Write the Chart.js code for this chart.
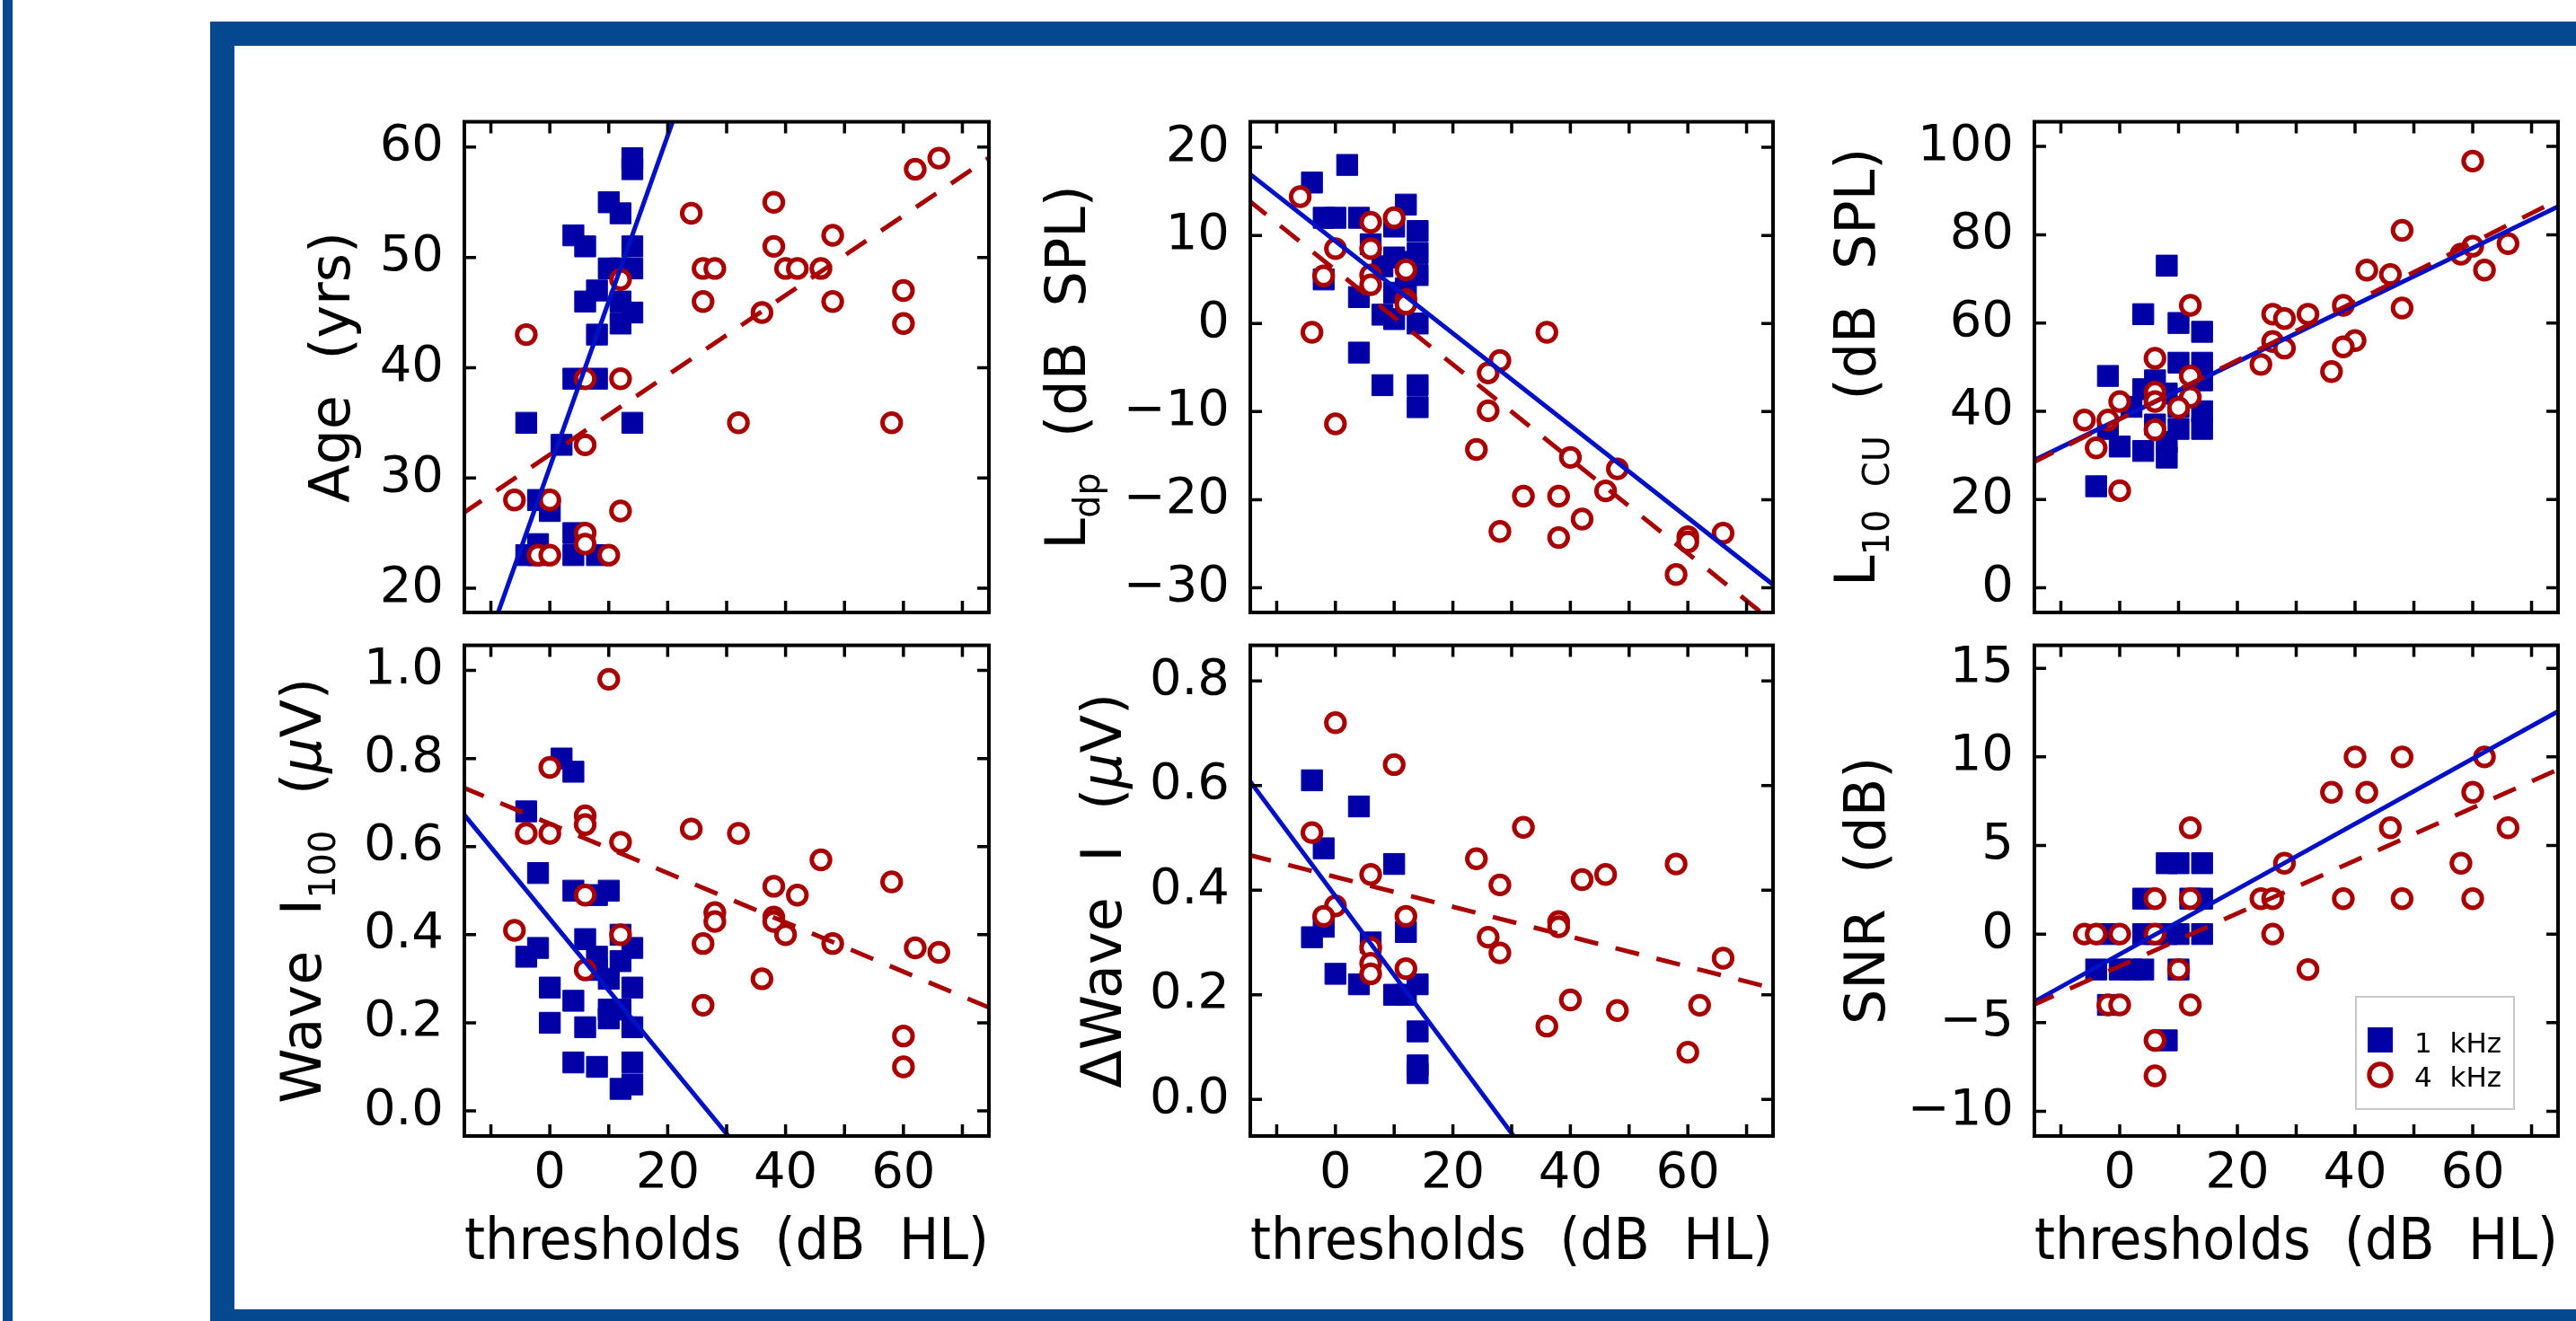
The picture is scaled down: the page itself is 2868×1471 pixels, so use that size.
<!DOCTYPE html>
<html>
<head>
<meta charset="utf-8">
<script src="https://cdn.jsdelivr.net/npm/chart.js@4.4.1/dist/chart.umd.min.js"></script>
<style>
    body { margin: 0; width: 2868px; height: 1471px; overflow: hidden; background: #fff; position: relative; }
    .bar { position: absolute; left: 3px; top: 0; width: 11px; height: 1471px; background: #03498f; }
    .frame { position: absolute; left: 234px; top: 24px; width: 2700px; height: 1461px; border: 27px solid #03498f; box-sizing: border-box; }
    canvas { position: absolute; }
</style>
</head>
<body>
<div class="bar"></div>
<div class="frame"></div>

<script>
// thresholds (dB HL) on x, shared by all six panels
const xTicks = [-10, 0, 10, 20, 30, 40, 50, 60, 70]
const xTickLabels = ['', '0', '', '20', '', '40', '', '60', '']

// Age (yrs)
const ageTicks = [20, 30, 40, 50, 60]
const ageLabels = ['20', '30', '40', '50', '60']
const age1k = [[14,59],[14,58],[10,55],[12,54],[4,52],[6,51],[14,51],[10,49],[12,49],[14,49],[8,47],[6,46],[12,46],[14,45],[12,44],[8,43],[4,39],[8,39],[-4,35],[14,35],[2,33],[-2,28],[0,27],[4,25],[-2,24],[-4,23],[-2,23],[4,23],[8,23]]
const age4k = [[66,59],[62,58],[24,54],[38,55],[48,52],[38,51],[26,49],[28,49],[40,49],[42,49],[46,49],[12,48],[26,46],[48,46],[60,47],[60,44],[36,45],[-4,43],[6,39],[12,39],[32,35],[58,35],[6,33],[-6,28],[0,28],[12,27],[6,25],[6,24],[-2,23],[0,23],[10,23]]
const ageFit1k = [[-9.3,17.0],[21.3,63.0]]
const ageFit4k = [[-15,26.7],[75,59.2]]

// Ldp (dB SPL)
const ldpTicks = [-30, -20, -10, 0, 10, 20]
const ldpLabels = ['\u221230', '\u221220', '\u221210', '0', '10', '20']
const ldp1k = [[-4,16],[2,18],[-2,12],[0,12],[4,12],[12,13.5],[10,11],[14,10.5],[6,9],[14,8],[10,7.5],[12,7],[8,6.5],[-2,5],[14,5.5],[4,3],[12,4],[10,3.5],[8,1],[10,0.5],[14,0],[4,-3.3],[8,-7],[14,-7],[14,-9.5]]
const ldp4k = [[-6,14.4],[6,11.5],[10,12],[0,8.5],[6,8.5],[-2,5.4],[6,5.5],[6,4.4],[12,6.1],[12,2.7],[12,2.2],[-4,-1],[36,-1],[28,-4.2],[26,-5.6],[26,-9.9],[0,-11.4],[24,-14.3],[40,-15.2],[48,-16.5],[46,-19],[32,-19.6],[38,-19.6],[42,-22.2],[28,-23.6],[38,-24.3],[60,-24.2],[60,-24.8],[66,-23.8],[58,-28.5]]
const ldpFit1k = [[-15,17.2],[75,-29.9]]
const ldpFit4k = [[-15,14.1],[73.8,-33.5]]

// L10 CU (dB SPL)
const l10Ticks = [0, 20, 40, 60, 80, 100]
const l10Labels = ['0', '20', '40', '60', '80', '100']
const l101k = [[8,73],[4,62],[10,60],[14,58],[-2,48],[10,51],[14,51],[14,47],[6,47],[4,45],[8,44],[2,41],[10,41],[14,40],[6,37],[10,36],[14,36],[-2,36],[0,32],[4,31],[8,33],[8,29.5],[-4,23]]
const l104k = [[60,96.7],[48,81],[66,78],[58,75.6],[60,77.4],[62,72],[42,72],[46,71],[48,63.4],[38,64],[12,64],[26,62],[28,61],[32,62],[26,55.8],[28,54.3],[40,56],[38,54.6],[24,50.6],[36,49],[6,52],[12,48],[6,44.3],[6,42.2],[12,43.2],[0,42.2],[10,40.8],[-6,38],[-2,38],[6,35.8],[-4,31.7],[0,22]]
const l10Fit1k = [[-15,28.6],[75,86.7]]
const l10Fit4k = [[-15,28.2],[75,88.2]]

// Wave I100 (uV)
const waveTicks = [0, 0.2, 0.4, 0.6, 0.8, 1.0]
const waveLabels = ['0.0', '0.2', '0.4', '0.6', '0.8', '1.0']
const wave1k = [[2,0.80],[4,0.77],[-4,0.68],[-2,0.54],[4,0.50],[8,0.49],[10,0.50],[6,0.39],[12,0.40],[-2,0.37],[-4,0.35],[14,0.37],[8,0.35],[8,0.32],[10,0.30],[12,0.34],[14,0.28],[0,0.28],[4,0.25],[10,0.23],[12,0.23],[10,0.21],[0,0.20],[6,0.19],[14,0.19],[4,0.11],[8,0.10],[14,0.11],[14,0.06],[12,0.05]]
const wave4k = [[10,0.98],[0,0.78],[6,0.67],[6,0.65],[-4,0.63],[0,0.63],[12,0.61],[24,0.64],[32,0.63],[46,0.57],[58,0.52],[38,0.51],[42,0.49],[6,0.49],[28,0.45],[28,0.43],[38,0.44],[38,0.43],[-6,0.41],[12,0.40],[40,0.40],[26,0.38],[48,0.38],[62,0.37],[66,0.36],[6,0.32],[36,0.30],[26,0.24],[60,0.17],[60,0.10]]
const waveFit1k = [[-15,0.68],[31.1,-0.07]]
const waveFit4k = [[-15,0.736],[75,0.232]]

// delta Wave I (uV)
const dwaveTicks = [0, 0.2, 0.4, 0.6, 0.8]
const dwaveLabels = ['0.0', '0.2', '0.4', '0.6', '0.8']
const dwave1k = [[-4,0.61],[4,0.56],[-2,0.48],[10,0.45],[-2,0.33],[-4,0.31],[12,0.32],[6,0.30],[0,0.24],[4,0.22],[10,0.20],[12,0.20],[14,0.22],[14,0.13],[14,0.065],[14,0.05]]
const dwave4k = [[0,0.72],[10,0.64],[32,0.52],[-4,0.51],[24,0.46],[58,0.45],[46,0.43],[42,0.42],[28,0.41],[6,0.43],[0,0.37],[-2,0.35],[12,0.35],[38,0.34],[38,0.33],[26,0.31],[28,0.28],[6,0.29],[6,0.26],[6,0.24],[12,0.25],[66,0.27],[40,0.19],[48,0.17],[62,0.18],[36,0.14],[60,0.09]]
const dwaveFit1k = [[-15,0.615],[31.0,-0.08]]
const dwaveFit4k = [[-15,0.468],[75,0.211]]

// SNR (dB)
const snrTicks = [-10, -5, 0, 5, 10, 15]
const snrLabels = ['\u221210', '\u22125', '0', '5', '10', '15']
const snr1k = [[8,4],[10,4],[14,4],[4,2],[12,2],[14,2],[-2,0],[4,0],[6,0],[8,0],[10,0],[14,0],[-4,-2],[0,-2],[2,-2],[4,-2],[10,-2],[-2,-4],[8,-6]]
const snr4k = [[40,10],[48,10],[62,10],[36,8],[42,8],[60,8],[12,6],[46,6],[66,6],[28,4],[58,4],[6,2],[12,2],[24,2],[26,2],[38,2],[48,2],[60,2],[-6,0],[-4,0],[0,0],[6,0],[26,0],[10,-2],[32,-2],[-2,-4],[0,-4],[12,-4],[6,-6],[6,-8]]
const snrFit1k = [[-15,-3.9],[75,12.66]]
const snrFit4k = [[-15,-4.05],[75,9.37]]

const seriesNames = ['1 kHz', '4 kHz']

const BLUE = '#0000a6'
const BLUE_LINE = '#0010c4'
const RED = '#a80000'
const FONT = "'DejaVu Sans', sans-serif"

// panel boxes on the page (px)
const cols = [[517, 1101], [1392, 1974], [2265, 2848]]
const rows = [[99, 682], [682, 1265]]
const AXIS_W = 300, AXIS_H = 190, PAD_T = 20, PAD_R = 20

const panels = [
    { col: 0, row: 0, min: 17.8, max: 62.3, ticks: ageTicks, labels: ageLabels, s1: age1k, s4: age4k, f1: ageFit1k, f4: ageFit4k,
      title: [['Age  (yrs)', '']], offset: 128 },
    { col: 1, row: 0, min: -32.8, max: 22.9, ticks: ldpTicks, labels: ldpLabels, s1: ldp1k, s4: ldp4k, f1: ldpFit1k, f4: ldpFit4k,
      title: [['L', ''], ['dp', 'sub'], ['  (dB  SPL)', '']], offset: 184 },
    { col: 2, row: 0, min: -5.6, max: 105.6, ticks: l10Ticks, labels: l10Labels, s1: l101k, s4: l104k, f1: l10Fit1k, f4: l10Fit4k,
      title: [['L', ''], ['10  CU', 'sub'], ['  (dB  SPL)', '']], offset: 178 },
    { col: 0, row: 1, min: -0.057, max: 1.057, ticks: waveTicks, labels: waveLabels, s1: wave1k, s4: wave4k, f1: waveFit1k, f4: waveFit4k,
      title: [['Wave  I', ''], ['100', 'sub'], ['  (', ''], ['\u03bc', 'it'], ['V)', '']], offset: 160 },
    { col: 1, row: 1, min: -0.07, max: 0.868, ticks: dwaveTicks, labels: dwaveLabels, s1: dwave1k, s4: dwave4k, f1: dwaveFit1k, f4: dwaveFit4k,
      title: [['\u0394Wave  I  (', ''], ['\u03bc', 'it'], ['V)', '']], offset: 144 },
    { col: 2, row: 1, min: -11.4, max: 16.3, ticks: snrTicks, labels: snrLabels, s1: snr1k, s4: snr4k, f1: snrFit1k, f4: snrFit4k,
      title: [['SNR  (dB)', '']], offset: 167, legend: true }
]

const toXY = arr => arr.map(p => ({ x: p[0], y: p[1] }))

// inward ticks on all four sides plus the box
const framePlugin = {
    id: 'frame',
    afterDatasetsDraw(chart) {
        const { ctx, chartArea: a, scales: { x, y } } = chart
        ctx.save()
        ctx.strokeStyle = '#000'
        ctx.lineWidth = 3.5
        ctx.beginPath()
        x.ticks.forEach(t => {
            const px = x.getPixelForValue(t.value)
            ctx.moveTo(px, a.bottom); ctx.lineTo(px, a.bottom - 13)
            ctx.moveTo(px, a.top); ctx.lineTo(px, a.top + 13)
        })
        y.ticks.forEach(t => {
            const py = y.getPixelForValue(t.value)
            ctx.moveTo(a.left, py); ctx.lineTo(a.left + 13, py)
            ctx.moveTo(a.right, py); ctx.lineTo(a.right - 13, py)
        })
        ctx.stroke()
        ctx.lineWidth = 4
        ctx.strokeRect(a.left, a.top, a.right - a.left, a.bottom - a.top)
        ctx.restore()
    }
}

// rotated y title with subscripts
function titlePlugin(panel) {
    return {
        id: 'yTitle',
        afterDraw(chart) {
            const { ctx, chartArea: a } = chart
            const fontFor = k => k === 'sub' ? '40px ' + FONT : (k === 'it' ? 'italic 62px ' + FONT : '62px ' + FONT)
            let total = 0
            panel.title.forEach(p => { ctx.font = fontFor(p[1]); total += ctx.measureText(p[0]).width })
            ctx.save()
            ctx.translate(a.left - panel.offset, (a.top + a.bottom) / 2)
            ctx.rotate(-Math.PI / 2)
            ctx.fillStyle = '#000'
            ctx.textBaseline = 'alphabetic'
            ctx.textAlign = 'left'
            let x = -total / 2
            panel.title.forEach(p => {
                ctx.font = fontFor(p[1])
                ctx.fillText(p[0], x, p[1] === 'sub' ? 16 : 0)
                x += ctx.measureText(p[0]).width
            })
            ctx.restore()
        }
    }
}

const legendPlugin = {
    id: 'boxLegend',
    afterDraw(chart) {
        const { ctx, chartArea: a } = chart
        const w = 176, h = 125
        const left = a.right - 49 - w, top = a.bottom - 30 - h
        ctx.save()
        ctx.fillStyle = '#fff'
        ctx.fillRect(left, top, w, h)
        ctx.strokeStyle = '#c8c8c8'
        ctx.lineWidth = 2
        ctx.strokeRect(left, top, w, h)
        ctx.fillStyle = BLUE
        ctx.fillRect(left + 13, top + 34, 28, 28)
        ctx.strokeStyle = RED
        ctx.lineWidth = 5
        ctx.beginPath()
        ctx.arc(left + 27, top + 87, 12.2, 0, Math.PI * 2)
        ctx.stroke()
        ctx.fillStyle = '#000'
        ctx.font = '31px ' + FONT
        ctx.textBaseline = 'alphabetic'
        ctx.fillText(seriesNames[0].replace(' ', '  '), left + 65, top + 62)
        ctx.fillText(seriesNames[1].replace(' ', '  '), left + 65, top + 100)
        ctx.restore()
    }
}

panels.forEach(p => {
    const [c0, c1] = cols[p.col]
    const [r0, r1] = rows[p.row]
    const canvas = document.createElement('canvas')
    canvas.width = (c1 - c0) + AXIS_W + PAD_R
    canvas.height = (r1 - r0) + PAD_T + AXIS_H
    canvas.style.left = (c0 - AXIS_W) + 'px'
    canvas.style.top = (r0 - PAD_T) + 'px'
    document.body.appendChild(canvas)

    const bottomRow = p.row === 1
    const plugins = [framePlugin, titlePlugin(p)]
    if (p.legend) plugins.push(legendPlugin)

    new Chart(canvas.getContext('2d'), {
        type: 'scatter',
        data: {
            datasets: [
                { label: seriesNames[1] + ' fit', data: toXY(p.f4), showLine: true, fill: false, borderColor: RED, borderWidth: 5,
                  borderDash: [27, 20], pointRadius: 0, clip: 0, order: 1 },
                { label: seriesNames[0] + ' fit', data: toXY(p.f1), showLine: true, fill: false, borderColor: BLUE_LINE, borderWidth: 5,
                  pointRadius: 0, clip: 0, order: 2 },
                { label: seriesNames[1], data: toXY(p.s4), pointStyle: 'circle', pointRadius: 10.2, pointBorderWidth: 5,
                  pointBorderColor: RED, pointBackgroundColor: '#fff', order: 3 },
                { label: seriesNames[0], data: toXY(p.s1), pointStyle: 'rect', pointRadius: 16.5, pointBorderWidth: 1,
                  pointBorderColor: BLUE, pointBackgroundColor: BLUE, order: 4 }
            ]
        },
        options: {
            responsive: false,
            animation: false,
            events: [],
            devicePixelRatio: 1,
            layout: { padding: { left: 0, top: PAD_T, right: PAD_R, bottom: 0 }, autoPadding: false },
            plugins: { legend: { display: false }, tooltip: { enabled: false } },
            scales: {
                x: {
                    type: 'linear', min: -14.5, max: 74.5,
                    grid: { display: false, drawTicks: false },
                    border: { display: false },
                    afterBuildTicks: s => { s.ticks = xTicks.map(v => ({ value: v })) },
                    afterFit: s => { s.height = AXIS_H },
                    ticks: { display: bottomRow, autoSkip: false, maxRotation: 0, padding: 9, color: '#000',
                             font: { family: FONT, size: 56 }, callback: (v, i) => xTickLabels[i] },
                    title: { display: bottomRow, text: 'thresholds  (dB  HL)', color: '#000',
                             font: { family: FONT, size: 64 }, padding: { top: 0, bottom: 31 } }
                },
                y: {
                    type: 'linear', min: p.min, max: p.max,
                    grid: { display: false, drawTicks: false },
                    border: { display: false },
                    afterBuildTicks: s => { s.ticks = p.ticks.map(v => ({ value: v })) },
                    afterFit: s => { s.width = AXIS_W },
                    ticks: { autoSkip: false, padding: 23, color: '#000',
                             font: { family: FONT, size: 56 }, callback: (v, i) => p.labels[i] }
                }
            }
        },
        plugins: plugins
    })
})
</script>
</body>
</html>
